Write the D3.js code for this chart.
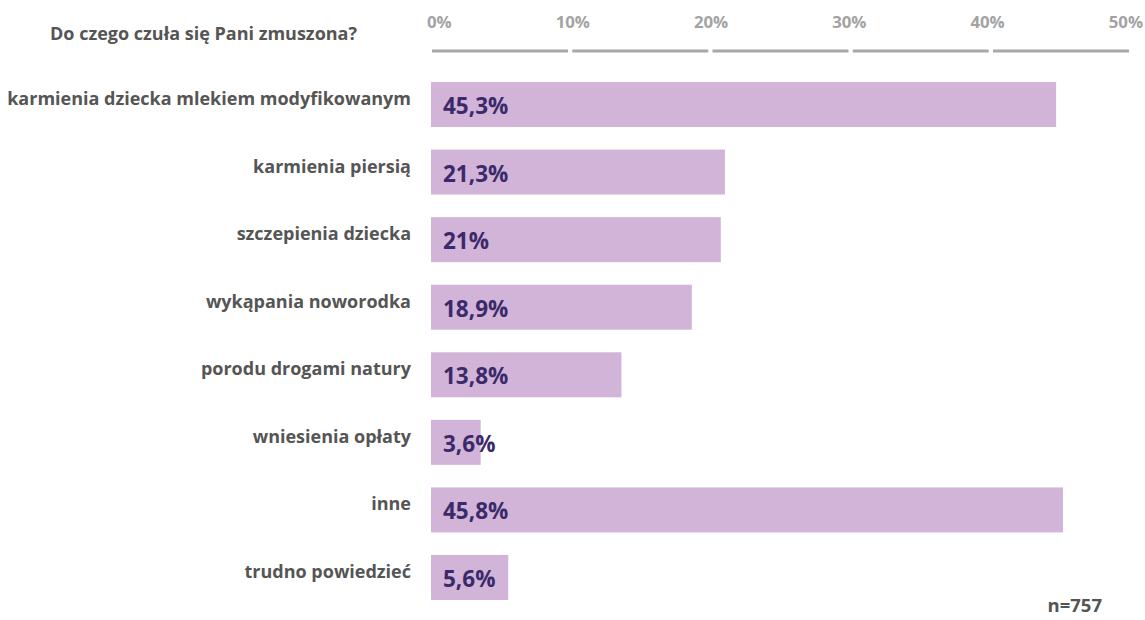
<!DOCTYPE html>
<html>
<head>
<meta charset="utf-8">
<script src="https://cdn.jsdelivr.net/npm/d3@7"></script>
<style>
  html, body { margin: 0; padding: 0; background: #fff; }
  svg { display: block; }
  text { font-family: "Open Sans", "DejaVu Sans", sans-serif; font-weight: 700; }
</style>
</head>
<body>
<svg id="chart" width="1145" height="620"></svg>
<script>
const title = "Do czego czuła się Pani zmuszona?";
const categories = [
  "karmienia dziecka mlekiem modyfikowanym",
  "karmienia piersią",
  "szczepienia dziecka",
  "wykąpania noworodka",
  "porodu drogami natury",
  "wniesienia opłaty",
  "inne",
  "trudno powiedzieć"
];
const values = [45.3, 21.3, 21, 18.9, 13.8, 3.6, 45.8, 5.6];
const valueLabels = ["45,3%", "21,3%", "21%", "18,9%", "13,8%", "3,6%", "45,8%", "5,6%"];
const tickValues = [0, 10, 20, 30, 40, 50];
const tickLabels = ["0%", "10%", "20%", "30%", "40%", "50%"];
const sampleNote = "n=757";

const svg = d3.select("#chart");

const x = d3.scaleLinear().domain([0, 50]).range([431, 1121]);
const y = d3.scaleBand().domain(categories).range([82, 600]).paddingInner(0.334).paddingOuter(0);

// Title
svg.append("text")
  .attr("x", 50).attr("y", 39.5)
  .attr("fill", "#555555")
  .style("font-size", "18px")
  .text(title);

// Top axis labels laid out with space-between from 427 to 1143
const tickG = svg.append("g");
const tks = tickG.selectAll("text").data(tickLabels).join("text")
  .attr("y", 28)
  .attr("fill", "#a3a3a3")
  .style("font-size", "16.8px")
  .text(d => d);
const widths = [];
tks.each(function() { widths.push(this.getComputedTextLength()); });
const left = 427, right = 1143;
const gap = (right - left - d3.sum(widths)) / (tickLabels.length - 1);
let cur = left;
tks.attr("x", (d, i) => { const p = cur; cur += widths[i] + gap; return p; });

// Segmented grid line under the labels
const seg = d3.scaleBand().domain(d3.range(tickValues.length - 1)).range([432, 1129]).paddingInner(0.03);
svg.append("g").selectAll("line").data(d3.range(tickValues.length - 1)).join("line")
  .attr("x1", d => seg(d)).attr("x2", d => seg(d) + seg.bandwidth())
  .attr("y1", 51).attr("y2", 51)
  .attr("stroke", "#a8a8a8").attr("stroke-width", 3);

// Bars
svg.append("g").selectAll("rect").data(categories).join("rect")
  .attr("x", x(0))
  .attr("y", d => y(d))
  .attr("width", (d, i) => x(values[i]) - x(0))
  .attr("height", y.bandwidth())
  .attr("fill", "#d1b4d7");

// Category labels
svg.append("g").selectAll("text").data(categories).join("text")
  .attr("x", 411)
  .attr("y", d => y(d) + 23)
  .attr("text-anchor", "end")
  .attr("fill", "#555555")
  .style("font-size", "18px")
  .text(d => d);

// Value labels
svg.append("g").selectAll("text").data(categories).join("text")
  .attr("x", x(0) + 12)
  .attr("y", d => y(d) + 32)
  .attr("fill", "#3b2a6b")
  .style("font-size", "22.5px")
  .text((d, i) => valueLabels[i]);

// Sample note
svg.append("text")
  .attr("x", 1102).attr("y", 612)
  .attr("text-anchor", "end")
  .attr("fill", "#555555")
  .style("font-size", "18.5px")
  .text(sampleNote);
</script>
</body>
</html>
